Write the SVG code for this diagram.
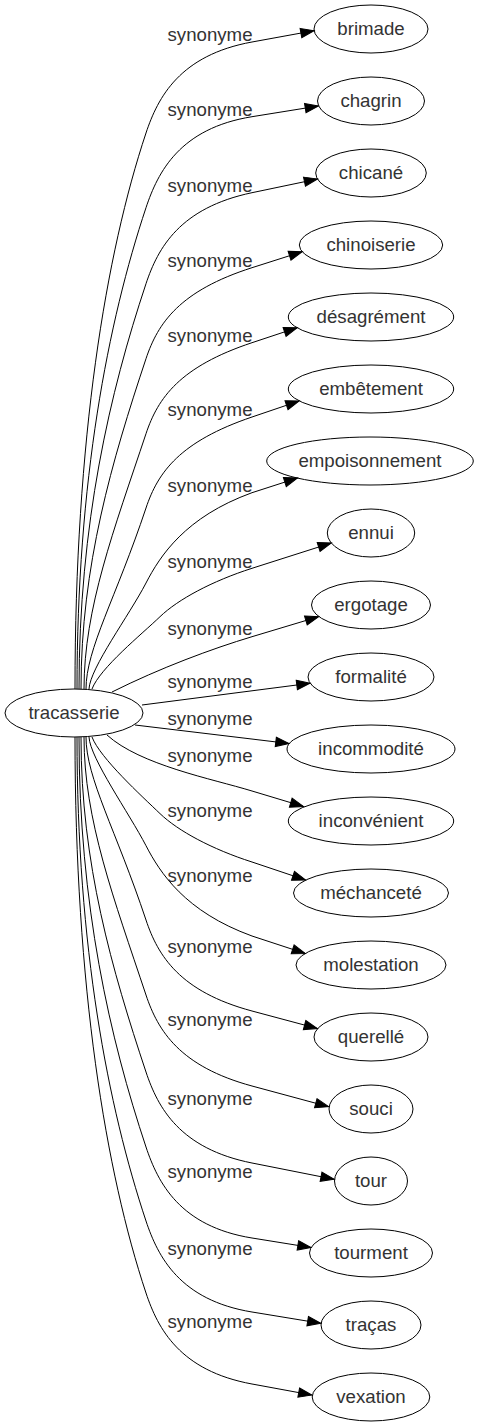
<svg xmlns="http://www.w3.org/2000/svg" width="479" height="1427" viewBox="0 0 479 1427">
<style>
.bg{fill:#ffffff}
.node ellipse{fill:none;stroke:#000;stroke-width:1}
.node text{font-family:"Liberation Sans",Arial,sans-serif;font-size:18.67px;fill:#333;text-anchor:middle}
.edges path{fill:none;stroke:#000;stroke-width:1;marker-end:url(#arr)}
.lbl text{font-family:"Liberation Sans",Arial,sans-serif;font-size:18.67px;fill:#333;text-anchor:middle}
</style>
<defs>
<marker id="arr" markerUnits="userSpaceOnUse" viewBox="0 0 14 10" markerWidth="14" markerHeight="10" refX="13.3" refY="5" orient="auto" overflow="visible">
<path d="M0,0.3 L13.3,5 L0,9.7 Z" fill="#000" stroke="#000" stroke-width="1"/>
</marker>
</defs>
<rect class="bg" x="0" y="0" width="479" height="1427"/>
<g class="edges" id="edges">
<path d="M75,689 C75,439 106,253 146,133 C158,97 180,55.1 252,42 L314,30.7"/>
<path d="M77,689 C77,481 108,321.7 146,207.7 C158,171.7 180,128.3 252,116.7 L318.4,106"/>
<path d="M79,689 C79,524 110,391.7 146,283.7 C158,247.7 180,207.8 252,192.7 L317.5,179"/>
<path d="M81,689 C81,566 112,460.7 146,358.7 C158,322.7 180,290.7 252,267.7 L302.2,251.7"/>
<path d="M84,689 C84,608 114,529.7 146,433.7 C158,397.7 180,366.6 252,342.7 L297.2,327.7"/>
<path d="M86,689 C86,649 116,598 146,508 C158,472 180,441.5 252,417 L299.1,401"/>
<path d="M89,689 C90,668 129.2,615.4 146,583 C160,556 185,517 252,492.7 L297.5,478"/>
<path d="M92,689 C100,668 142,634 160,616.7 C178,599.4 212,581.1 252,568.3 L331.3,543"/>
<path d="M112,692 C160,668 212,648.7 252,636.7 L318.6,616.7"/>
<path d="M142,705 L310,683.3"/>
<path d="M135,725 L289,743.5"/>
<path d="M107,735 C140,765 212,778.8 252,791 L303.5,806.5"/>
<path d="M92,737 C100,758 142,796.3 160,813.6 C178,830.9 212,849.2 252,862 L305.6,880"/>
<path d="M89,737 C90,758 129.2,813.3 146,845.7 C160,872.7 185,911.7 252,936 L305.3,953.5"/>
<path d="M86,737 C86,778 116,830 146,920 C158,956 180,991.7 252,1011 L317.4,1028.5"/>
<path d="M84,737 C84,820 114,899 146,995 C158,1031 180,1066.5 252,1086 L328.6,1106.7"/>
<path d="M81,737 C81,863 112,970 146,1072 C158,1108 180,1148.7 252,1163 L334.1,1179.3"/>
<path d="M79,737 C79,905 110,1039 146,1147 C158,1183 180,1226.4 252,1238 L311,1247.5"/>
<path d="M77,737 C77,947 108,1107 146,1221 C158,1257 180,1300.2 252,1312 L320.8,1323.3"/>
<path d="M75,737 C75,987 106,1173 146,1293 C158,1329 180,1370.8 252,1384 L311.8,1395"/>
</g>
<g class="lbl" id="edge-labels">
<text x="210" y="41">synonyme</text>
<text x="210" y="115.7">synonyme</text>
<text x="210" y="191.7">synonyme</text>
<text x="210" y="266.7">synonyme</text>
<text x="210" y="341.7">synonyme</text>
<text x="210" y="416">synonyme</text>
<text x="210" y="491.7">synonyme</text>
<text x="210" y="568.3">synonyme</text>
<text x="210" y="635">synonyme</text>
<text x="210" y="688">synonyme</text>
<text x="210" y="725">synonyme</text>
<text x="210" y="761.7">synonyme</text>
<text x="210" y="816.7">synonyme</text>
<text x="210" y="882">synonyme</text>
<text x="210" y="953">synonyme</text>
<text x="210" y="1026">synonyme</text>
<text x="210" y="1105">synonyme</text>
<text x="210" y="1178">synonyme</text>
<text x="210" y="1255">synonyme</text>
<text x="210" y="1328">synonyme</text>
</g>
<g class="node" id="tracasserie"><ellipse cx="74" cy="713" rx="69" ry="24"/><text x="74" y="718.5">tracasserie</text></g>
<g class="node" id="brimade"><ellipse cx="371" cy="29" rx="57" ry="24"/><text x="371" y="34.5">brimade</text></g>
<g class="node" id="chagrin"><ellipse cx="371" cy="101" rx="53.5" ry="24"/><text x="371" y="106.5">chagrin</text></g>
<g class="node" id="chicane"><ellipse cx="371" cy="173" rx="55.3" ry="24"/><text x="371" y="178.5">chicané</text></g>
<g class="node" id="chinoiserie"><ellipse cx="371" cy="245" rx="71.7" ry="24"/><text x="371" y="250.5">chinoiserie</text></g>
<g class="node" id="desagrement"><ellipse cx="371" cy="317" rx="82.7" ry="24"/><text x="371" y="322.5">désagrément</text></g>
<g class="node" id="embetement"><ellipse cx="371" cy="389" rx="82.7" ry="24"/><text x="371" y="394.5">embêtement</text></g>
<g class="node" id="empoisonnement"><ellipse cx="370" cy="461" rx="103.3" ry="24"/><text x="370" y="466.5">empoisonnement</text></g>
<g class="node" id="ennui"><ellipse cx="371" cy="533" rx="43.7" ry="24"/><text x="371" y="538.5">ennui</text></g>
<g class="node" id="ergotage"><ellipse cx="371" cy="605" rx="59.5" ry="24"/><text x="371" y="610.5">ergotage</text></g>
<g class="node" id="formalite"><ellipse cx="371" cy="677" rx="63" ry="24"/><text x="371" y="682.5">formalité</text></g>
<g class="node" id="incommodite"><ellipse cx="371" cy="749" rx="84" ry="24"/><text x="371" y="754.5">incommodité</text></g>
<g class="node" id="inconvenient"><ellipse cx="371" cy="821" rx="82.7" ry="24"/><text x="371" y="826.5">inconvénient</text></g>
<g class="node" id="mechancete"><ellipse cx="371" cy="893" rx="77.5" ry="24"/><text x="371" y="898.5">méchanceté</text></g>
<g class="node" id="molestation"><ellipse cx="371" cy="965" rx="75" ry="24"/><text x="371" y="970.5">molestation</text></g>
<g class="node" id="querelle"><ellipse cx="371" cy="1037" rx="57" ry="24"/><text x="371" y="1042.5">querellé</text></g>
<g class="node" id="souci"><ellipse cx="371" cy="1109" rx="42" ry="24"/><text x="371" y="1114.5">souci</text></g>
<g class="node" id="tour"><ellipse cx="371" cy="1181" rx="36.5" ry="24"/><text x="371" y="1186.5">tour</text></g>
<g class="node" id="tourment"><ellipse cx="371" cy="1253" rx="61.5" ry="24"/><text x="371" y="1258.5">tourment</text></g>
<g class="node" id="tracas"><ellipse cx="371" cy="1325" rx="50" ry="24"/><text x="371" y="1330.5">traças</text></g>
<g class="node" id="vexation"><ellipse cx="371" cy="1397" rx="58.8" ry="24"/><text x="371" y="1402.5">vexation</text></g>
</svg>
